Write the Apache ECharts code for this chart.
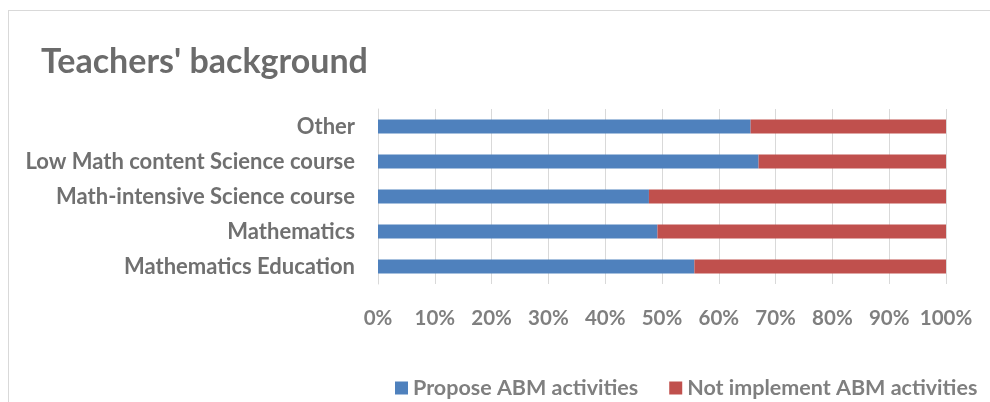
<!DOCTYPE html>
<html><head><meta charset="utf-8">
<script src="https://cdn.jsdelivr.net/npm/echarts@6/dist/echarts.min.js"></script>
<style>html,body{margin:0;padding:0;background:#fff}#c{width:990px;height:402px}
#frame{position:absolute;left:8px;top:10px;width:990px;height:420px;border:1px solid #d9d9d9;pointer-events:none}</style>
</head><body><div id="c"></div><div id="frame"></div>
<script>
const categories = ['Mathematics Education','Mathematics','Math-intensive Science course','Low Math content Science course','Other'];
const proposeABM = [55.7, 49.2, 47.7, 67.0, 65.6];
const notImplementABM = [44.3, 50.8, 52.3, 33.0, 34.4];
const tickLabels = ['0%','10%','20%','30%','40%','50%','60%','70%','80%','90%','100%'];
const chart = echarts.init(document.getElementById('c'));
chart.setOption({
  animation:false,
  title:{text:"Teachers' background",left:36,top:40,textStyle:{fontFamily:'Lato',fontSize:34,fontWeight:'bold',color:'#6b6b6b'}},
  grid:{left:378,right:44,top:109,height:175,containLabel:false},
  legend:{top:372,left:390,itemWidth:13,itemHeight:13,itemGap:31,icon:'rect',
    textStyle:{fontFamily:'Lato',fontSize:21.5,fontWeight:'bold',color:'#7f7f7f'},
    data:['Propose ABM activities','Not implement ABM activities']},
  xAxis:{type:'value',min:0,max:100,interval:10,
    axisLabel:{formatter:v=>tickLabels[Math.round(v/10)],fontFamily:'Lato',fontSize:20.5,fontWeight:'bold',color:'#7f7f7f',margin:24},
    splitLine:{show:true,lineStyle:{color:'#d9d9d9',width:1}},axisLine:{show:false},axisTick:{show:false}},
  yAxis:{type:'category',data:categories,
    axisLabel:{fontFamily:'Lato',fontSize:22,fontWeight:'bold',color:'#707070',margin:23},
    axisLine:{show:true,lineStyle:{color:'#d9d9d9'}},axisTick:{show:false}},
  series:[
    {name:'Propose ABM activities',type:'bar',stack:'a',data:proposeABM,barWidth:'40%',itemStyle:{color:'#4f81bd'}},
    {name:'Not implement ABM activities',type:'bar',stack:'a',data:notImplementABM,barWidth:'40%',itemStyle:{color:'#c0504d'}}
  ]
});
</script></body></html>
